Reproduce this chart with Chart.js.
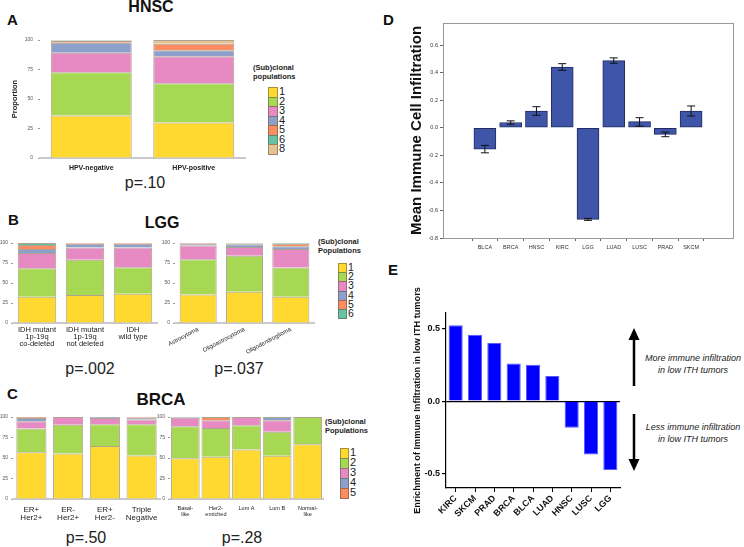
<!DOCTYPE html>
<html>
<head>
<meta charset="utf-8">
<script src="https://cdn.jsdelivr.net/npm/chart.js@4.4.0/dist/chart.umd.min.js"></script>
<style>
  html, body { margin: 0; padding: 0; background: #fff; }
  #page { position: relative; width: 744px; height: 547px; overflow: hidden; font-family: "Liberation Sans", Arial, sans-serif; color: #111; }
  canvas { position: absolute; }
  .t { position: absolute; white-space: nowrap; line-height: 1; }
  .c { transform: translateX(-50%); text-align: center; }
  .letter { font-weight: bold; font-size: 15px; }
  .title { font-weight: bold; font-size: 16px; }
  .pval { font-size: 16px; color: #222; }
  .lgTitle { font-weight: bold; font-size: 7.5px; line-height: 8.5px; color: #222; }
  .sw { position: absolute; box-sizing: border-box; border: 1px solid rgba(90,80,60,0.55); }
  .num { position: absolute; line-height: 1; color: #222; }
  .note { font-style: italic; font-size: 9px; line-height: 11.5px; color: #222; }
</style>
</head>
<body>
<div id="page">
  <div class="t letter" style="left:7px;top:12px">A</div>
  <div class="t title c" style="left:151px;top:-1px">HNSC</div>
  <div class="t pval c" style="left:145px;top:175px">p=.10</div>

  <div class="t letter" style="left:8px;top:212px">B</div>
  <div class="t title c" style="left:162px;top:215px">LGG</div>
  <div class="t pval c" style="left:90px;top:361px">p=.002</div>
  <div class="t pval c" style="left:239px;top:361px">p=.037</div>

  <div class="t letter" style="left:7px;top:386px">C</div>
  <div class="t title c" style="left:161px;top:391px;font-size:17px">BRCA</div>
  <div class="t pval c" style="left:86px;top:530px">p=.50</div>
  <div class="t pval c" style="left:242px;top:530px">p=.28</div>

  <div class="t letter" style="left:383px;top:12px">D</div>
  <div class="t letter" style="left:388px;top:262px">E</div>

  <div class="t lgTitle" style="left:253px;top:64px">(Sub)clonal<br>populations</div>
  <div class="t lgTitle" style="left:318px;top:238px">(Sub)clonal<br>Populations</div>
  <div class="t lgTitle" style="left:325px;top:418px">(Sub)clonal<br>Populations</div>
  <div id="lgA"></div>
  <div id="lgB"></div>
  <div id="lgC"></div>

  <div class="t note c" style="left:693px;top:353px">More immune infiltration<br>in low ITH tumors</div>
  <div class="t note c" style="left:693px;top:422px">Less immune infiltration<br>in low ITH tumors</div>
  <svg width="744" height="547" style="position:absolute;left:0;top:0;pointer-events:none">
    <line x1="634" y1="386" x2="634" y2="337" stroke="#000" stroke-width="2.5"/>
    <polygon points="634,328 628.5,340 639.5,340" fill="#000"/>
    <line x1="634" y1="414" x2="634" y2="462" stroke="#000" stroke-width="2.5"/>
    <polygon points="634,471 628.5,459 639.5,459" fill="#000"/>
  </svg>

  <canvas id="cA" width="252" height="160" style="left:0px;top:28px"></canvas>
  <canvas id="cB1" width="162" height="125" style="left:0px;top:233px"></canvas>
  <canvas id="cB2" width="168" height="135" style="left:152px;top:233px"></canvas>
  <canvas id="cC1" width="164" height="125" style="left:0px;top:407px"></canvas>
  <canvas id="cC2" width="180" height="125" style="left:150px;top:407px"></canvas>
  <canvas id="cD" width="346" height="255" style="left:398px;top:10px"></canvas>
  <canvas id="cE" width="232" height="285" style="left:398px;top:262px"></canvas>
</div>

<script>
// DATA

// proportions (%) of each (sub)clonal population, one array per bar
const propTicks = [0, 25, 50, 75, 100];

const hnscPops = ["1", "2", "3", "4", "5", "6", "8"];
const hnscCats = ["HPV-negative", "HPV-positive"];
const hnscNeg = [36.1, 36.6, 16.6, 8.4, 1.4, 0.4, 0.5];
const hnscPos = [30.1, 33.3, 22.8, 5.1, 5.6, 0, 3.1];

const lggPops = ["1", "2", "3", "4", "5", "6"];
const lggCatsIdh = [["IDH mutant", "1p-19q", "co-deleted"], ["IDH mutant", "1p-19q", "not deleted"], ["IDH", "wild type"]];
const lggCodel = [32.8, 35.7, 18.9, 5.0, 5.2, 2.4];
const lggNodel = [34.9, 44.1, 15.5, 4.7, 0.8, 0];
const lggWild = [36.6, 33.1, 24.8, 4.7, 0.8, 0];
const lggCatsHist = ["Astrocytoma", "Oligoastrocytoma", "Oligodendroglioma"];
const lggAstro = [35.7, 44.1, 17.2, 2.2, 0.8, 0];
const lggOligoastro = [39.1, 44.9, 11.0, 3.3, 1.2, 0.5];
const lggOligodendro = [32.8, 36.5, 23.1, 3.4, 3.4, 0.8];

const brcaPops = ["1", "2", "3", "4", "5"];
const brcaCatsRec = [["ER+", "Her2+"], ["ER-", "Her2+"], ["ER+", "Her2-"], ["Triple", "Negative"]];
const brcaErpHerp = [56.9, 29.0, 8.9, 4.0, 1.2];
const brcaErnHerp = [55.6, 35.1, 9.3, 0, 0];
const brcaErpHern = [64.5, 26.6, 7.7, 1.2, 0];
const brcaTripleNeg = [53.2, 37.9, 5.7, 2.4, 0.8];
const brcaCatsPam = [["Basal-", "like"], ["Her2-", "enriched"], "Lum A", "Lum B", ["Normal-", "like"]];
const brcaBasal = [49.6, 39.1, 10.5, 0.8, 0];
const brcaHer2 = [51.6, 35.1, 9.3, 0, 4.0];
const brcaLumA = [60.5, 29.4, 10.1, 0, 0];
const brcaLumB = [52.8, 29.1, 14.1, 4.0, 0];
const brcaNormal = [66.9, 33.1, 0, 0, 0];

// panel D
const dCats = ["BLCA", "BRCA", "HNSC", "KIRC", "LGG", "LUAD", "LUSC", "PRAD", "SKCM"];
const dMeans = [-0.155, 0.038, 0.121, 0.441, -0.665, 0.487, 0.044, -0.048, 0.121];
const dErrLow = [-0.182, 0.026, 0.090, 0.417, -0.672, 0.468, 0.012, -0.065, 0.085];
const dErrHigh = [-0.128, 0.050, 0.153, 0.465, -0.658, 0.507, 0.073, -0.032, 0.158];
const dTicks = [-0.8, -0.6, -0.4, -0.2, 0, 0.2, 0.4, 0.6];

// panel E
const eCats = ["KIRC", "SKCM", "PRAD", "BRCA", "BLCA", "LUAD", "HNSC", "LUSC", "LGG"];
const eVals = [0.526, 0.46, 0.402, 0.26, 0.253, 0.175, -0.184, -0.368, -0.476];
const eTicks = [-0.5, 0, 0.5];

const popColors = { "1": "#ffd92f", "2": "#a6d854", "3": "#e78ac3", "4": "#8da0cb", "5": "#fc8d62", "6": "#66c2a5", "8": "#e5c494" };

// STACKED PROPORTION CHARTS

function stackedChart(id, cats, bars, pops, c) {
  const datasets = pops.map((p, k) => ({
    label: p,
    data: bars.map(b => b[k] || null),
    backgroundColor: popColors[p],
    borderColor: "rgba(120,100,70,0.6)",
    borderWidth: 1
  }));

  return new Chart(document.getElementById(id), {
    type: "bar",
    data: { labels: cats, datasets },
    options: {
      responsive: false,
      animation: false,
      layout: { padding: { left: 0, top: c.padT, right: c.padR, bottom: 0 } },
      plugins: { legend: { display: false }, tooltip: { enabled: false } },
      datasets: { bar: { categoryPercentage: c.bw, barPercentage: 1 } },
      scales: {
        x: {
          stacked: true,
          grid: { display: false, drawTicks: false },
          border: { color: "#c9c9c9", width: 2 },
          ticks: {
            color: "#222",
            font: { size: c.xFont, weight: c.xBold ? "bold" : "normal", lineHeight: c.xLh || 1.1 },
            padding: c.xPad,
            autoSkip: false,
            maxRotation: c.rot,
            minRotation: c.rot
          },
          afterFit: s => { s.height = c.xH; }
        },
        y: {
          stacked: true,
          min: 0,
          max: 100,
          afterBuildTicks: s => { s.ticks = propTicks.map(v => ({ value: v })); },
          grid: { drawOnChartArea: false, tickLength: 2, color: "#999" },
          border: { display: false },
          ticks: { color: "#555", font: { size: 5 }, padding: c.yPad },
          title: c.yTitle
            ? { display: true, text: c.yTitle, color: "#222", font: { size: 7.5, weight: "bold" }, padding: { top: 10, bottom: 0 } }
            : { display: false },
          afterFit: s => { s.width = c.yW; }
        }
      }
    }
  });
}

stackedChart("cA", hnscCats, [hnscNeg, hnscPos], hnscPops,
  { padT: 12, padR: 7, yW: 40, xH: 30, bw: 0.79, xFont: 7, xBold: true, xPad: 6, rot: 0, yPad: 5, yTitle: "Proportion" });
stackedChart("cB1", lggCatsIdh, [lggCodel, lggNodel, lggWild], lggPops,
  { padT: 10, padR: 5, yW: 13, xH: 35, bw: 0.8, xFont: 7.5, xLh: 0.95, xBold: false, xPad: 3, rot: 0, yPad: 3 });
stackedChart("cB2", lggCatsHist, [lggAstro, lggOligoastro, lggOligodendro], lggPops,
  { padT: 10, padR: 6, yW: 23, xH: 45, bw: 0.8, xFont: 6, xBold: false, xPad: 3, rot: 28, yPad: 3 });
stackedChart("cC1", brcaCatsRec, [brcaErpHerp, brcaErnHerp, brcaErpHern, brcaTripleNeg], brcaPops,
  { padT: 10, padR: 4, yW: 13, xH: 33, bw: 0.82, xFont: 8, xBold: false, xPad: 6, rot: 0, yPad: 3 });
stackedChart("cC2", brcaCatsPam, [brcaBasal, brcaHer2, brcaLumA, brcaLumB, brcaNormal], brcaPops,
  { padT: 10, padR: 7, yW: 20, xH: 33, bw: 0.94, xFont: 5.5, xBold: false, xPad: 6, rot: 0, yPad: 3 });

// LEGENDS

function buildLegend(elId, pops, g) {
  const el = document.getElementById(elId);
  pops.forEach((p, i) => {
    const sw = document.createElement("div");
    sw.className = "sw";
    sw.style.left = g.x + "px";
    sw.style.top = (g.y + i * g.h) + "px";
    sw.style.width = g.w + "px";
    sw.style.height = (g.h + 1) + "px";
    sw.style.background = popColors[p];
    el.appendChild(sw);

    const num = document.createElement("div");
    num.className = "num";
    num.innerText = p;
    num.style.left = (g.x + g.w + 1) + "px";
    num.style.top = (g.y + i * g.h - 1) + "px";
    num.style.fontSize = g.font + "px";
    el.appendChild(num);
  });
}

buildLegend("lgA", hnscPops, { x: 268, y: 87, w: 10, h: 9.5, font: 11 });
buildLegend("lgB", lggPops, { x: 338, y: 263, w: 9, h: 9.2, font: 10.5 });
buildLegend("lgC", brcaPops, { x: 340, y: 448, w: 9, h: 10, font: 11 });

// PANEL D

const boxPlugin = {
  id: "box",
  afterDraw(chart) {
    const a = chart.chartArea;
    const ctx = chart.ctx;
    ctx.save();
    ctx.strokeStyle = "#9a9a9a";
    ctx.lineWidth = 1;
    ctx.strokeRect(a.left + 0.5, a.top + 0.5, a.right - a.left, a.bottom - a.top);
    ctx.restore();
  }
};

const errorBarPlugin = {
  id: "errorBars",
  afterDatasetsDraw(chart) {
    const xs = chart.scales.x;
    const ys = chart.scales.y;
    const ctx = chart.ctx;
    ctx.save();
    ctx.strokeStyle = "#111";
    ctx.lineWidth = 1;
    dCats.forEach((c, i) => {
      const x = xs.getPixelForValue(i + 1);
      const lo = ys.getPixelForValue(dErrLow[i]);
      const hi = ys.getPixelForValue(dErrHigh[i]);
      ctx.beginPath();
      ctx.moveTo(x, lo); ctx.lineTo(x, hi);
      ctx.moveTo(x - 4, lo); ctx.lineTo(x + 4, lo);
      ctx.moveTo(x - 4, hi); ctx.lineTo(x + 4, hi);
      ctx.stroke();
    });
    ctx.restore();
  }
};

new Chart(document.getElementById("cD"), {
  type: "bar",
  data: {
    datasets: [{
      data: dCats.map((c, i) => ({ x: i + 1, y: dMeans[i] })),
      backgroundColor: "#3f55a8",
      borderColor: "#222c63",
      borderWidth: 1,
      borderSkipped: false,
      barThickness: 22
    }]
  },
  options: {
    responsive: false,
    animation: false,
    layout: { padding: { left: 0, top: 13, right: 11, bottom: 0 } },
    plugins: { legend: { display: false }, tooltip: { enabled: false } },
    scales: {
      x: {
        type: "linear",
        min: 0,
        max: 10,
        afterBuildTicks: s => { s.ticks = dCats.map((c, i) => ({ value: i + 1 })); },
        grid: { drawOnChartArea: false, tickLength: 3, color: "#666" },
        border: { display: false },
        ticks: { callback: v => dCats[Math.round(v) - 1], color: "#333", font: { size: 5.5 }, autoSkip: false, maxRotation: 0, padding: 3 },
        afterFit: s => { s.height = 27; }
      },
      y: {
        min: -0.8,
        max: 0.76,
        afterBuildTicks: s => { s.ticks = dTicks.map(v => ({ value: v })); },
        grid: { drawOnChartArea: false, tickLength: 3, color: "#666" },
        border: { display: false },
        ticks: { callback: v => v.toFixed(1), color: "#333", font: { size: 5.5 }, padding: 2 },
        title: { display: true, text: "Mean Immune Cell Infiltration", color: "#111", font: { size: 15, weight: "bold" }, padding: { top: 10, bottom: 0 } },
        afterFit: s => { s.width = 45; }
      }
    }
  },
  plugins: [boxPlugin, errorBarPlugin]
});

// PANEL E

new Chart(document.getElementById("cE"), {
  type: "bar",
  data: {
    labels: eCats,
    datasets: [{
      data: eVals,
      backgroundColor: "#0000ff",
      borderColor: "#5a5aff",
      borderWidth: 1
    }]
  },
  options: {
    responsive: false,
    animation: false,
    layout: { padding: { left: 0, top: 51, right: 10, bottom: 0 } },
    plugins: { legend: { display: false }, tooltip: { enabled: false } },
    datasets: { bar: { categoryPercentage: 0.73, barPercentage: 1 } },
    scales: {
      x: {
        grid: { offset: false, drawOnChartArea: false, tickLength: 4, color: "#000" },
        border: { color: "#000", width: 1.2 },
        ticks: { color: "#111", font: { size: 9, weight: "bold" }, autoSkip: false, maxRotation: 45, minRotation: 45, padding: 1 },
        afterFit: s => { s.height = 59; }
      },
      y: {
        min: -0.6,
        max: 0.61,
        afterBuildTicks: s => { s.ticks = eTicks.map(v => ({ value: v })); },
        grid: {
          color: ctx => (ctx.tick && ctx.tick.value === 0 ? "#000" : "rgba(0,0,0,0)"),
          tickColor: "#000",
          tickLength: 4,
          lineWidth: 1.2
        },
        border: { color: "#000", width: 1.2 },
        ticks: { callback: v => v.toFixed(1), color: "#111", font: { size: 9, weight: "bold" }, padding: 2 },
        title: { display: true, text: "Enrichment of Immune Infiltration in low ITH tumors", color: "#111", font: { size: 9.2, weight: "bold" }, padding: { top: 14, bottom: 0 } },
        afterFit: s => { s.width = 48; }
      }
    }
  }
});
</script>
</body>
</html>
